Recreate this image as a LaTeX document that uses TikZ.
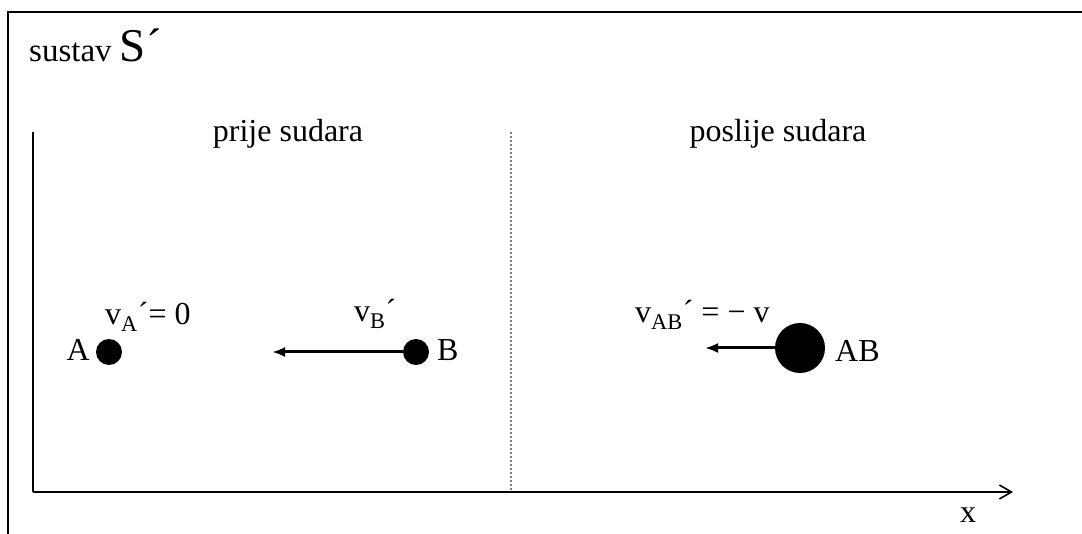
\documentclass[tikz,border=0pt]{standalone}
\usepackage{fontspec}
\setmainfont{Liberation Serif}
\usetikzlibrary{arrows.meta, positioning}

\begin{document}
\begin{tikzpicture}[
  x=1pt, y=-1pt,
  txt/.style={inner sep=0pt, font=\fontsize{32}{38}\selectfont},
  dot/.style={circle, fill=black, inner sep=0pt, minimum size=26pt},
  bigdot/.style={dot, minimum size=50pt},
  frame/.style={line width=2pt},
  axis/.style={line width=2pt, -{Straight Barb[length=12pt,width=14pt,line width=1.6pt]}},
  velo/.style={line width=3pt, -{Latex[length=13pt,width=10pt]}},
  divider/.style={gray, line width=1.2pt, dash pattern=on 2pt off 2pt}
]
\useasboundingbox (0,0) rectangle (1082,534);

% open frame
\coordinate (fbl) at (8,534);
\coordinate (ftl) at (8,12);
\coordinate (ftr) at (1082,12);
\draw[frame] (fbl) -- (ftl) -- (ftr);

\node[txt, anchor=base west] (title) at (29,62)
  {\fontsize{33}{38}\selectfont sustav {\fontsize{47}{52}\selectfont S´}};

% axes and divider
\coordinate (origin) at (33,492);
\coordinate (ytop) at (33,132);
\coordinate (xend) at (1013,492);
\coordinate (divtop) at (511,132);
\coordinate (divbot) at (511,491);
\draw[frame] (ytop) -- (origin);
\draw[axis] (origin) -- (xend);
\draw[divider] (divtop) -- (divbot);
\node[txt, anchor=base] (xlab) at (968,522) {x};

\node[txt, anchor=base] (before) at (288,142) {prije sudara};
\node[txt, anchor=base] (after) at (778,142) {poslije sudara};

% before collision
\node[dot] (dotA) at (109,352) {};
\node[txt, anchor=base east] (labA) at (90,361) {A};
\node[txt, anchor=base west] (velA) at (105,325) {v\textsubscript{A}´= 0};

\node[dot] (dotB) at (416,352) {};
\node[txt, anchor=base west] (labB) at (437,361) {B};
\node[txt, anchor=base west] (velB) at (354,322) {v\textsubscript{B}´};
\coordinate (tipB) at (272,352);
\draw[velo] (dotB) -- (tipB);

% after collision
\node[bigdot] (dotAB) at (800,348) {};
\node[txt, anchor=base west] (labAB) at (835,362) {AB};
\node[txt, anchor=base west] (velAB) at (635,323) {v\textsubscript{AB}´ = − v};
\coordinate (tipAB) at (705,348);
\draw[velo] (dotAB) -- (tipAB);

\end{tikzpicture}
\end{document}
